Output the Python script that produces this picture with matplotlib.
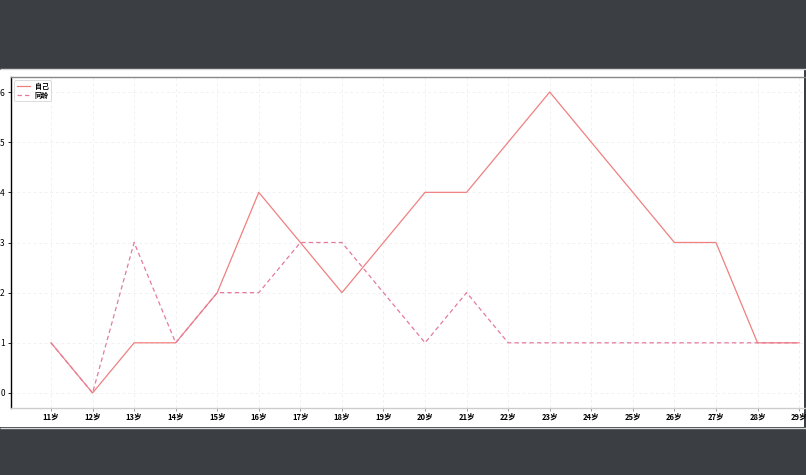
import matplotlib
matplotlib.use("Agg")
import matplotlib.pyplot as plt
from matplotlib.patches import Rectangle

plt.rcParams['font.family'] = ['Noto Sans CJK SC', 'DejaVu Sans']

ages = list(range(11, 30))
age_labels = [f"{a}岁" for a in ages]
self_vals = [1, 0, 1, 1, 2, 4, 3, 2, 3, 4, 4, 5, 6, 5, 4, 3, 3, 1, 1]
peer_vals = [1, 0, 3, 1, 2, 2, 3, 3, 2, 1, 2, 1, 1, 1, 1, 1, 1, 1, 1]
series_names = ["自己", "同龄"]

W, H = 806, 475
fig = plt.figure(figsize=(W / 100, H / 100), dpi=100)
fig.patch.set_facecolor("#3b3e42")

# white page area with thin frame lines
fig.add_artist(Rectangle((0, 1 - 427 / H), 804 / W, (427 - 70) / H, transform=fig.transFigure,
                         facecolor="white", edgecolor="none", zorder=-10))
fig.add_artist(Rectangle((0, 1 - 69 / H), 1, 0.0, transform=fig.transFigure,
                         edgecolor="#d8d8d8", linewidth=1.0, facecolor="none", zorder=-9))
fig.add_artist(Rectangle((0, 1 - 428 / H), 1, 0.0, transform=fig.transFigure,
                         edgecolor="#d8d8d8", linewidth=1.0, facecolor="none", zorder=-9))

px_per_unit = 41.56
ax_left_px, ax_right_px = 11, 850
ax_top_px, ax_bot_px = 77, 408
ax = fig.add_axes([ax_left_px / W, 1 - ax_bot_px / H,
                   (ax_right_px - ax_left_px) / W, (ax_bot_px - ax_top_px) / H])
ax.set_facecolor("none")
x0 = 11 - (51 - ax_left_px) / px_per_unit
ax.set_xlim(x0, x0 + (ax_right_px - ax_left_px) / px_per_unit)
ax.set_ylim(-0.3, 6.3)

ax.plot(ages, self_vals, color="#f08080", linewidth=0.9, linestyle="-", label=series_names[0])
ax.plot(ages, peer_vals, color="#e67a9e", linewidth=0.9, linestyle=(0, (3.5, 2.5)),
        label=series_names[1])

ax.set_xticks(ages)
ax.set_xticklabels(age_labels, fontsize=5.5, fontweight="bold")
ax.set_yticks(range(0, 7))
ax.tick_params(axis="y", labelsize=6, length=2.5, width=0.6, pad=2)
ax.tick_params(axis="x", length=2.5, width=0.6, pad=0.5, color="#888888")
ax.grid(True, linestyle=(0, (4, 4)), color="#ececec", linewidth=0.5)

ax.spines["left"].set_color("black")
ax.spines["left"].set_linewidth(1.0)
ax.spines["bottom"].set_color("#cccccc")
ax.spines["bottom"].set_linewidth(1.0)
ax.spines["top"].set_color("#888888")
ax.spines["top"].set_linewidth(1.0)
ax.spines["right"].set_visible(False)

leg = ax.legend(loc="upper left", frameon=True, handlelength=2.0,
                borderpad=0.3, labelspacing=0.3, handletextpad=0.6,
                bbox_to_anchor=(0.0, 1.0), prop={"size": 5, "weight": "bold"})
leg.get_frame().set_edgecolor("#cccccc")
leg.get_frame().set_linewidth(0.6)

fig.savefig("out.png", dpi=100, facecolor=fig.get_facecolor())
